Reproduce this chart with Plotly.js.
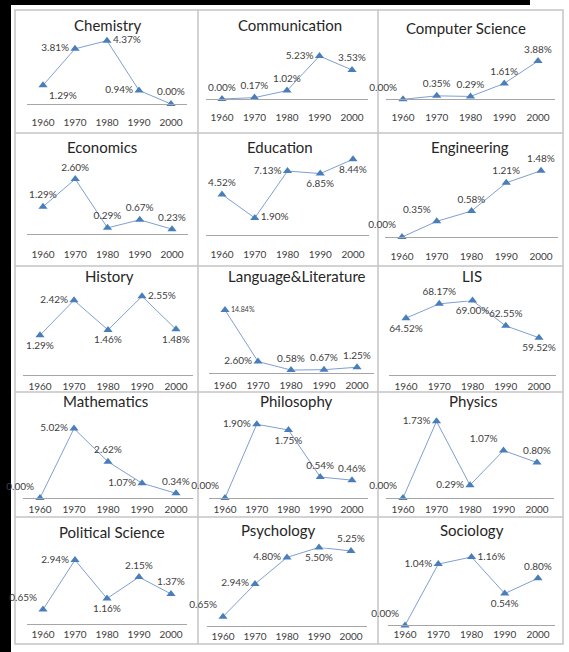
<!DOCTYPE html>
<html>
<head>
<meta charset="utf-8">
<script src="https://cdn.plot.ly/plotly-3.0.1.min.js"></script>
<style>html,body{margin:0;padding:0;background:#fff;}#chart{width:569px;height:652px;}</style>
</head>
<body>
<div id="chart"></div>
<script>
// ---- data ----
const categories = ['1960', '1970', '1980', '1990', '2000'];
const titles = ['Chemistry', 'Communication', 'Computer Science', 'Economics', 'Education', 'Engineering',
  'History', 'Language&Literature', 'LIS', 'Mathematics', 'Philosophy', 'Physics',
  'Political Science', 'Psychology', 'Sociology'];
const chemistry = [1.29, 3.81, 4.37, 0.94, 0.00];
const communication = [0.00, 0.17, 1.02, 5.23, 3.53];
const computerScience = [0.00, 0.35, 0.29, 1.61, 3.88];
const economics = [1.29, 2.60, 0.29, 0.67, 0.23];
const education = [4.52, 1.90, 7.13, 6.85, 8.44];
const engineering = [0.00, 0.35, 0.58, 1.21, 1.48];
const history = [1.29, 2.42, 1.46, 2.55, 1.48];
const languageLiterature = [14.84, 2.60, 0.58, 0.67, 1.25];
const lis = [64.52, 68.17, 69.00, 62.55, 59.52];
const mathematics = [0.00, 5.02, 2.62, 1.07, 0.34];
const philosophy = [0.00, 1.90, 1.75, 0.54, 0.46];
const physics = [0.00, 1.73, 0.29, 1.07, 0.80];
const politicalScience = [0.65, 2.94, 1.16, 2.15, 1.37];
const psychology = [0.65, 2.94, 4.80, 5.50, 5.25];
const sociology = [0.00, 1.04, 1.16, 0.54, 0.80];
const axisMin = [0, 0, 0, 0, 0, 0, 0, 0, 50, 0, 0, 0, 0, 0, 0];

const series = [chemistry, communication, computerScience, economics, education, engineering,
  history, languageLiterature, lis, mathematics, philosophy, physics,
  politicalScience, psychology, sociology];

// ---- layout geometry (pixels in a 569x652 page) ----
const W = 569, H = 652;
// [first point x, last point x, baseline y, y of max value, title x, title y, tick gap]
const geom = [
  [43, 171, 104, 40.7, 108, 25, 19],
  [222, 352, 99, 56, 290, 25, 19],
  [403, 538, 99.3, 61, 466, 28, 19],
  [43, 172, 234, 179, 102, 147, 21],
  [222, 353, 235, 159.3, 280, 147, 20],
  [402, 541, 237, 170.7, 470, 147, 20],
  [40, 176, 375, 296.3, 109, 276, 12],
  [225, 357, 372.5, 310, 297, 276, 13],
  [406, 539, 375, 300.6, 472, 276, 12],
  [40, 176, 498, 428.5, 105, 401, 12],
  [225, 352, 498, 424.2, 296, 401, 12],
  [403, 537, 498, 421.3, 473, 401, 12],
  [43, 171, 623.6, 560, 112, 532, 11],
  [223, 351, 626, 547.4, 278, 530, 11],
  [405, 538, 625.4, 557, 472, 530, 10]
];
const textPos = [
  ['bottom right', 'middle left', 'middle right', 'middle left', 'top center'],
  ['top center', 'top center', 'top center', 'middle left', 'top center'],
  ['top left', 'top center', 'top center', 'top center', 'top center'],
  ['top center', 'top center', 'top center', 'top center', 'top center'],
  ['top center', 'middle right', 'middle left', 'bottom center', 'bottom center'],
  ['top left', 'top left', 'top center', 'top center', 'top center'],
  ['bottom center', 'middle left', 'bottom center', 'middle right', 'bottom center'],
  ['middle right', 'middle left', 'top center', 'top center', 'top center'],
  ['bottom center', 'top center', 'bottom center', 'top center', 'bottom center'],
  ['top left', 'middle left', 'top center', 'middle left', 'top center'],
  ['top left', 'middle left', 'bottom center', 'top center', 'top center'],
  ['top left', 'middle left', 'middle left', 'top left', 'top center'],
  ['top left', 'middle left', 'bottom center', 'top center', 'top center'],
  ['top left', 'middle left', 'middle left', 'bottom center', 'top center'],
  ['top left', 'middle left', 'middle right', 'bottom center', 'top center']
];

const FONT = 'Lato, Calibri, Carlito, "Open Sans", sans-serif';
const traces = [];
const layout = {
  width: W, height: H,
  margin: {l: 0, r: 0, t: 0, b: 0},
  paper_bgcolor: '#ffffff', plot_bgcolor: 'rgba(0,0,0,0)',
  showlegend: false,
  font: {family: FONT, color: '#404040'},
  annotations: [],
  shapes: []
};

series.forEach((vals, i) => {
  const g = geom[i];
  const n = i === 0 ? '' : String(i + 1);
  const step = (g[1] - g[0]) / (categories.length - 1);
  const xl = (g[0] - step / 2) / W, xr = (g[1] + step / 2) / W;
  const vmax = Math.max(...vals);
  traces.push({
    type: 'scatter', mode: 'lines+markers+text',
    x: categories, y: vals,
    xaxis: 'x' + n, yaxis: 'y' + n,
    line: {color: '#7f9fd2', width: 1},
    marker: {symbol: 'triangle-up', size: 8, color: '#4a7ebb'},
    text: vals.map(v => v.toFixed(2) + '%'),
    textposition: textPos[i],
    textfont: {family: FONT, size: 10, color: '#404040'},
    cliponaxis: false, hoverinfo: 'skip'
  });
  layout['xaxis' + n] = {
    domain: [xl, xr], anchor: 'y' + n, type: 'category',
    range: [-0.5, categories.length - 0.5],
    showline: true, linecolor: '#a6a6a6', linewidth: 1,
    showgrid: false, zeroline: false,
    ticks: 'outside', ticklen: Math.max(0, g[6] - 10), tickcolor: 'rgba(0,0,0,0)',
    tickfont: {family: FONT, size: 10, color: '#404040'},
    fixedrange: true
  };
  layout['yaxis' + n] = {
    domain: [1 - g[2] / H, 1 - g[3] / H], anchor: 'x' + n,
    range: [axisMin[i], vmax], visible: false, showgrid: false, zeroline: false,
    fixedrange: true
  };
  layout.annotations.push({
    xref: 'paper', yref: 'paper', x: g[4] / W, y: 1 - g[5] / H,
    text: titles[i], showarrow: false, xanchor: 'center', yanchor: 'middle',
    font: {family: FONT, size: 15, color: '#262626'}
  });
});

// Language&Literature first label is smaller
traces[7].textfont.size = [7, 10, 10, 10, 10];

// frame & cell borders
const px = (x) => x / W, py = (y) => 1 - y / H;
const border = '#c4c4c4';
layout.shapes.push({type: 'rect', xref: 'paper', yref: 'paper', x0: 0, x1: px(11), y0: 0, y1: 1, fillcolor: '#000', line: {width: 0}, layer: 'below'});
layout.shapes.push({type: 'rect', xref: 'paper', yref: 'paper', x0: 0, x1: px(530), y0: py(5), y1: 1, fillcolor: '#000', line: {width: 0}, layer: 'below'});
layout.shapes.push({type: 'rect', xref: 'paper', yref: 'paper', x0: px(15), x1: px(563), y0: py(644), y1: py(10), line: {color: border, width: 1.5}, layer: 'below'});
[198, 378].forEach(x => layout.shapes.push({type: 'line', xref: 'paper', yref: 'paper', x0: px(x), x1: px(x), y0: py(644), y1: py(10), line: {color: border, width: 1.5}, layer: 'below'}));
[133, 266, 392, 517].forEach(y => layout.shapes.push({type: 'line', xref: 'paper', yref: 'paper', x0: px(15), x1: px(563), y0: py(y), y1: py(y), line: {color: border, width: 1.5}, layer: 'below'}));

Plotly.newPlot('chart', traces, layout, {staticPlot: true, displayModeBar: false});
</script>
</body>
</html>
